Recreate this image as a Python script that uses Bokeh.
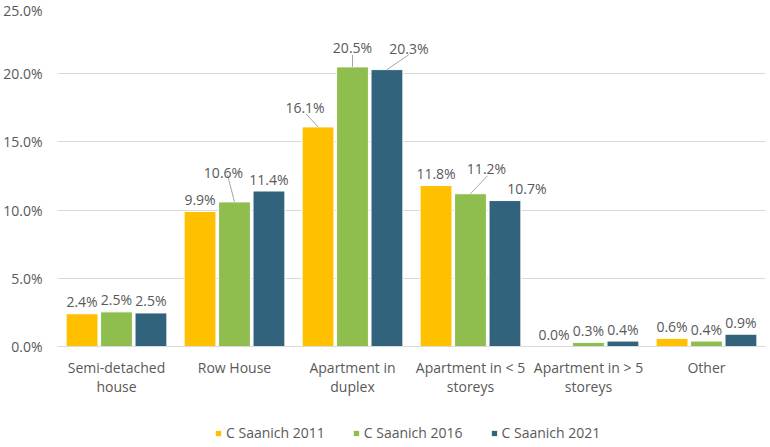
from bokeh.plotting import figure
from bokeh.models import Range1d, FixedTicker, PrintfTickFormatter, ColumnDataSource, Legend, LegendItem
from bokeh.core.properties import value
from bokeh.embed import file_html
from bokeh.resources import INLINE

# ---- data ----
categories = ["Semi-detached house", "Row House", "Apartment in duplex",
              "Apartment in < 5 storeys", "Apartment in > 5 storeys", "Other"]
tick_labels = ["Semi-detached\nhouse", "Row House", "Apartment in\nduplex",
               "Apartment in < 5\nstoreys", "Apartment in > 5\nstoreys", "Other"]
series_names = ["C Saanich 2011", "C Saanich 2016", "C Saanich 2021"]
saanich_2011 = [2.4, 9.9, 16.1, 11.8, 0.0, 0.6]
saanich_2016 = [2.54, 10.6, 20.5, 11.2, 0.3, 0.4]
saanich_2021 = [2.46, 11.4, 20.3, 10.7, 0.4, 0.9]
y_ticks = [0, 5, 10, 15, 20, 25]

# ---- styling ----
colors = ["#FFC000", "#8FBE4F", "#31637C"]
text_color = "#595959"
font = "Open Sans"
fs = "14px"
grid_color = "#D9D9D9"
FRAME_W, FRAME_H = 708, 440
Y_MAX = 25
PX_PER_PCT = 341 / 25          # vertical scale of the value area
Y_MIN = Y_MAX - FRAME_H / PX_PER_PCT   # room below zero for axis labels and legend
n_cat = len(categories)
px_x = FRAME_W / n_cat
px_y = PX_PER_PCT
bar_w = 0.27
bar_shift = 0.292

# label offsets (px): (series, category) -> (dx, dy, leader_end_dx, leader_end_dy)
label_offsets = {
    (0, 2): (-13, -19, -12, -13),
    (1, 1): (-11, -29, -7, -27),
    (1, 2): (0, -19, 0, -12),
    (2, 2): (22, -21, 22, -15),
    (1, 3): (16, -25, 17, -18),
    (2, 3): (22, -12, None, None),
}
default_dy = -12

p = figure(frame_width=FRAME_W, frame_height=FRAME_H, output_backend="svg", toolbar_location=None,
           x_range=Range1d(0, n_cat), y_range=Range1d(Y_MIN, Y_MAX),
           min_border_left=57, min_border_right=2, min_border_top=5, min_border_bottom=0,
           outline_line_color=None, background_fill_color="white", border_fill_color="white")

series = [saanich_2011, saanich_2016, saanich_2021]
renderers = []
lab_x, lab_y, lab_t, lab_dx, lab_dy = [], [], [], [], []
seg_x0, seg_y0, seg_x1, seg_y1 = [], [], [], []
for s, vals in enumerate(series):
    xs = [i + 0.5 + (s - 1) * bar_shift for i in range(n_cat)]
    src = ColumnDataSource(dict(x=xs, top=vals))
    r = p.vbar(x="x", top="top", bottom=0, width=bar_w, source=src, fill_color=colors[s],
               line_color="white", line_width=1)
    renderers.append(r)
    for i, v in enumerate(vals):
        dx, dy, lx, ly = label_offsets.get((s, i), (0, default_dy, None, None))
        lab_x.append(xs[i]); lab_y.append(v); lab_t.append(f"{v:.1f}%")
        lab_dx.append(dx); lab_dy.append(dy)
        if lx is not None:
            seg_x0.append(xs[i]); seg_y0.append(v)
            seg_x1.append(xs[i] + lx / px_x); seg_y1.append(v - ly / px_y)

p.segment(x0=seg_x0, y0=seg_y0, x1=seg_x1, y1=seg_y1, line_color="#A6A6A6", line_width=1)
p.text(x=lab_x, y=lab_y, text=lab_t, x_offset=lab_dx, y_offset=lab_dy,
       text_align="center", text_baseline="alphabetic", text_font=value(font),
       text_font_size=fs, text_color=text_color)

# axes
p.xgrid.visible = False
p.ygrid.grid_line_color = grid_color
p.ygrid.ticker = FixedTicker(ticks=y_ticks)

p.yaxis.ticker = FixedTicker(ticks=y_ticks)
p.yaxis.formatter = PrintfTickFormatter(format="%.1f%%")
p.yaxis.axis_line_color = None
p.yaxis.major_tick_line_color = None
p.yaxis.minor_tick_line_color = None
p.yaxis.major_tick_out = 0
p.yaxis.major_tick_in = 0
p.yaxis.minor_tick_out = 0
p.yaxis.major_label_standoff = 15
p.yaxis.major_label_text_font = font
p.yaxis.major_label_text_font_size = fs
p.yaxis.major_label_text_color = text_color

p.xaxis.fixed_location = 0
p.xaxis.ticker = FixedTicker(ticks=[i + 0.5 for i in range(n_cat)])
p.xaxis.major_label_overrides = {i + 0.5: t for i, t in enumerate(tick_labels)}
p.xaxis.axis_line_color = grid_color
p.xaxis.major_tick_line_color = None
p.xaxis.minor_tick_line_color = None
p.xaxis.major_tick_out = 0
p.xaxis.major_tick_in = 0
p.xaxis.minor_tick_out = 0
p.xaxis.major_label_standoff = 11
p.xaxis.major_label_text_font = font
p.xaxis.major_label_text_font_size = fs
p.xaxis.major_label_text_color = text_color
p.xaxis.major_label_text_line_height = 1.05

legend = Legend(items=[LegendItem(label=n, renderers=[r]) for n, r in zip(series_names, renderers)],
                orientation="horizontal", location=(157, 3), glyph_width=8, glyph_height=8,
                label_standoff=4, spacing=27, border_line_color=None, background_fill_alpha=0,
                label_text_font=font, label_text_font_size=fs, label_text_color=text_color,
                padding=2, margin=0)
p.add_layout(legend, "center")

open("out.html", "w").write(file_html(p, INLINE))
